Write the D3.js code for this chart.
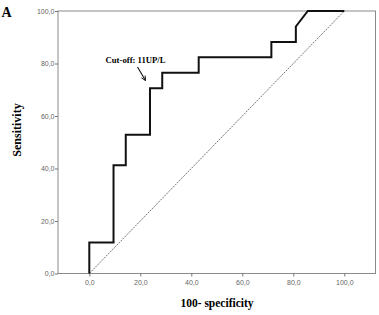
<!DOCTYPE html>
<html>
<head>
<meta charset="utf-8">
<script src="https://cdn.jsdelivr.net/npm/d3@7"></script>
<style>
  body { margin: 0; background: #fff; }
  svg { display: block; }
</style>
</head>
<body>
<svg id="chart"></svg>
<script>
var width = 379,
	height = 315;

// ROC curve (100 - specificity, sensitivity)
var fpr = [0, 0, 9.5, 9.5, 14.3, 14.3, 23.8, 23.8, 28.6, 28.6, 42.9, 42.9, 71.4, 71.4, 81.0, 81.0, 85.7, 100];
var sens = [0, 11.8, 11.8, 41.2, 41.2, 52.9, 52.9, 70.6, 70.6, 76.5, 76.5, 82.4, 82.4, 88.2, 88.2, 94.1, 100, 100];
var diagonal = [0, 100];
var tickValues = [0, 20, 40, 60, 80, 100];
var tickLabels = ["0,0", "20,0", "40,0", "60,0", "80,0", "100,0"];

var x = d3.scaleLinear().domain([0, 100]).range([89.3, 344.3]);
var y = d3.scaleLinear().domain([0, 100]).range([273.5, 11]);

var svg = d3.select("#chart")
	.attr("width", width)
	.attr("height", height);

var left = x.invert(58), right = x.invert(375.5);

// frame
svg.append("rect")
	.attr("x", x(left))
	.attr("y", y(100))
	.attr("width", x(right) - x(left))
	.attr("height", y(0) - y(100))
	.attr("fill", "none")
	.attr("stroke", "#8a8a8a")
	.attr("stroke-width", 1);

// axes
var xAxis = d3.axisBottom(x).tickValues(tickValues).tickSize(3)
	.tickFormat(function(d, i) { return tickLabels[i]; });
var yAxis = d3.axisLeft(y).tickValues(tickValues).tickSize(3)
	.tickFormat(function(d, i) { return tickLabels[i]; });

var gx = svg.append("g").attr("transform", "translate(0," + y(0) + ")").call(xAxis);
var gy = svg.append("g").attr("transform", "translate(" + x(left) + ",0)").call(yAxis);

[gx, gy].forEach(function(g) {
	g.select(".domain").remove();
	g.selectAll(".tick line").attr("stroke", "#777");
	g.selectAll(".tick text")
		.attr("fill", "#666")
		.style("font-family", "'Liberation Sans', Arial, sans-serif")
		.style("font-size", "7px");
});
gx.selectAll(".tick text").attr("dy", "0.85em");
gy.selectAll(".tick text").attr("x", -3.5);

// reference line
svg.append("line")
	.attr("x1", x(diagonal[0])).attr("y1", y(diagonal[0]))
	.attr("x2", x(diagonal[1])).attr("y2", y(diagonal[1]))
	.attr("stroke", "#666")
	.attr("stroke-width", 0.9)
	.attr("stroke-dasharray", "2,1");

// ROC curve
var line = d3.line()
	.x(function(d) { return x(d[0]); })
	.y(function(d) { return y(d[1]); });

svg.append("path")
	.datum(d3.zip(fpr, sens))
	.attr("d", line)
	.attr("fill", "none")
	.attr("stroke", "#111")
	.attr("stroke-width", 2)
	.attr("stroke-linejoin", "miter");

var serif = "'Liberation Serif', 'Times New Roman', serif";

// annotation
svg.append("text")
	.attr("x", 105.5)
	.attr("y", 62.5)
	.style("font-family", serif)
	.style("font-weight", "bold")
	.style("font-size", "8.7px")
	.text("Cut-off: 11UP/L");

svg.append("defs").append("marker")
	.attr("id", "arrow")
	.attr("viewBox", "0 0 10 10")
	.attr("refX", 9).attr("refY", 5)
	.attr("markerWidth", 5).attr("markerHeight", 5)
	.attr("orient", "auto")
	.append("path")
	.attr("d", "M1,1 L9,5 L1,9")
	.attr("fill", "none")
	.attr("stroke", "#111")
	.attr("stroke-width", 1.6);

svg.append("line")
	.attr("x1", 137.5).attr("y1", 67)
	.attr("x2", 145.5).attr("y2", 80.5)
	.attr("stroke", "#111")
	.attr("stroke-width", 1.1)
	.attr("marker-end", "url(#arrow)");

// panel letter
svg.append("text")
	.attr("x", 1.5)
	.attr("y", 16.5)
	.style("font-family", serif)
	.style("font-weight", "bold")
	.style("font-size", "14px")
	.text("A");

// axis titles
svg.append("text")
	.attr("transform", "translate(21,130) rotate(-90)")
	.attr("text-anchor", "middle")
	.style("font-family", serif)
	.style("font-weight", "bold")
	.style("font-size", "12px")
	.text("Sensitivity");

svg.append("text")
	.attr("x", 217)
	.attr("y", 306.5)
	.attr("text-anchor", "middle")
	.style("font-family", serif)
	.style("font-weight", "bold")
	.style("font-size", "11.5px")
	.text("100- specificity");
</script>
</body>
</html>
